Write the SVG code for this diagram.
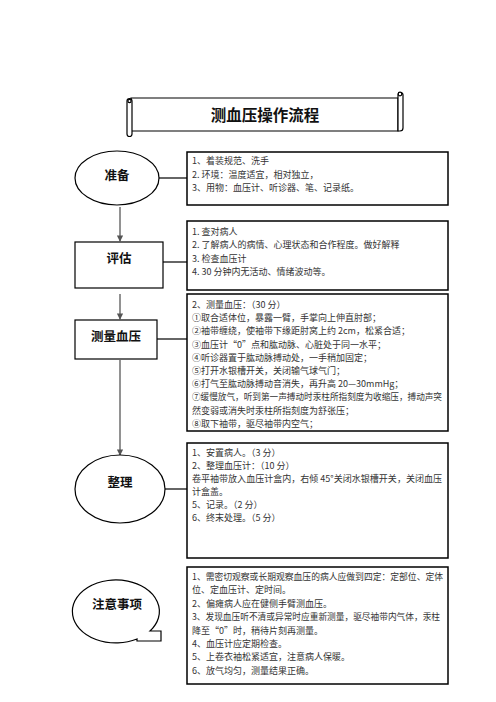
<svg xmlns="http://www.w3.org/2000/svg" width="496" height="702" viewBox="0 0 496 702">
<style>
.node{fill:#fff;stroke:#000;stroke-width:1.2}
.box{fill:#fff;stroke:#000;stroke-width:1.5}
.lbl{font-family:"Noto Sans CJK SC","Noto Sans",sans-serif;font-weight:bold;font-size:12.5px;fill:#111;text-anchor:middle}
.t{font-family:"Noto Sans CJK SC","Noto Sans",sans-serif;font-size:9px;fill:#333}
.ln{stroke:#000;stroke-width:1.2;fill:none}
.ar{stroke:#777;stroke-width:1.6;fill:none;marker-end:url(#ah)}
</style>
<defs>
<marker id="ah" viewBox="0 0 8 8" refX="7" refY="4" markerWidth="4" markerHeight="4" orient="auto" markerUnits="strokeWidth">
<path d="M0,0 L8,4 L0,8 Z" fill="#555"/>
</marker>
</defs>
<rect width="496" height="702" fill="#fff"/>

<g id="title">
<path class="node" d="M131,98 H398 V131 H131 Z"/>
<path class="node" d="M398,131 V95 a2.5,2.5 0 0 1 5,0 V128 a3,3 0 0 1 -3,3 Z"/>
<circle cx="400" cy="94" r="1.8" class="node"/>
<path class="node" d="M127,101 a2.5,2.5 0 0 1 5,0 V134 a2.5,2.5 0 0 1 -5,0 Z"/>
<circle cx="129.5" cy="101" r="1.6" class="node"/>
<text x="265" y="120.5" style="font-family:'Noto Sans CJK SC',sans-serif;font-weight:bold;font-size:15.5px;fill:#111;text-anchor:middle">测血压操作流程</text>
</g>

<g id="connectors">
<line class="ar" x1="120" y1="207" x2="120" y2="241"/>
<line class="ar" x1="120" y1="294" x2="120" y2="319"/>
<line class="ar" x1="120" y1="360" x2="120" y2="455"/>
<line class="ln" x1="159" y1="178" x2="187" y2="178"/>
<line class="ln" x1="163" y1="262" x2="187" y2="262"/>
<line class="ln" x1="157" y1="339" x2="187" y2="339"/>
<line class="ln" x1="165" y1="489" x2="187" y2="489"/>
</g>

<g id="n-zhunbei">
<ellipse class="node" cx="117" cy="178" rx="42" ry="27"/>
<text class="lbl" x="117" y="180">准备</text>
</g>
<g id="n-pinggu">
<rect class="node" x="75" y="242" width="88" height="46"/>
<text class="lbl" x="119" y="263">评估</text>
</g>
<g id="n-celiang">
<rect class="node" x="75" y="320" width="82" height="39"/>
<text class="lbl" x="116" y="341">测量血压</text>
</g>
<g id="n-zhengli">
<ellipse class="node" cx="120" cy="489" rx="45" ry="34"/>
<text class="lbl" x="120" y="487">整理</text>
</g>
<g id="n-zhuyi">
<path class="node" d="M137,639 A43.5,31.5 0 1 1 150,631 L161,631 L161,641 L137,641 Z"/>
<text class="lbl" x="117" y="609">注意事项</text>
</g>

<g id="b-1">
<rect class="box" x="187" y="152" width="261" height="53"/>
<text class="t" x="192" y="164">1、着装规范、洗手</text>
<text class="t" x="192" y="177.5">2. 环境：温度适宜，相对独立，</text>
<text class="t" x="192" y="191">3、用物：血压计、听诊器、笔、记录纸。</text>
</g>
<g id="b-2">
<rect class="box" x="187" y="221" width="261" height="69"/>
<text class="t" x="192" y="234.5">1. 查对病人</text>
<text class="t" x="192" y="248">2. 了解病人的病情、心理状态和合作程度。做好解释</text>
<text class="t" x="192" y="261.5">3. 检查血压计</text>
<text class="t" x="192" y="275">4. 30 分钟内无活动、情绪波动等。</text>
</g>
<g id="b-3">
<rect class="box" x="187" y="294" width="261" height="137"/>
<text class="t" x="192" y="308">2、测量血压：（30 分）</text>
<text class="t" x="192" y="321.2">①取合适体位，暴露一臂，手掌向上伸直肘部；</text>
<text class="t" x="192" y="334.4">②袖带缠绕，使袖带下缘距肘窝上约 2cm，松紧合适；</text>
<text class="t" x="192" y="347.6">③血压计“0”点和肱动脉、心脏处于同一水平；</text>
<text class="t" x="192" y="360.8">④听诊器置于肱动脉搏动处，一手稍加固定；</text>
<text class="t" x="192" y="374">⑤打开水银槽开关，关闭输气球气门；</text>
<text class="t" x="192" y="387.2">⑥打气至肱动脉搏动音消失，再升高 20—30mmHg；</text>
<text class="t" x="192" y="400.4" textLength="250" lengthAdjust="spacingAndGlyphs">⑦缓慢放气，听到第一声搏动时汞柱所指刻度为收缩压，搏动声突</text>
<text class="t" x="192" y="413.6">然变弱或消失时汞柱所指刻度为舒张压；</text>
<text class="t" x="192" y="426.8">⑧取下袖带，驱尽袖带内空气；</text>
</g>
<g id="b-4">
<rect class="box" x="187" y="443" width="261" height="115"/>
<text class="t" x="192" y="456">1、安置病人。（3 分）</text>
<text class="t" x="192" y="469">2、整理血压计：（10 分）</text>
<text class="t" x="192" y="482" textLength="250" lengthAdjust="spacingAndGlyphs">卷平袖带放入血压计盒内，右倾 45°关闭水银槽开关，关闭血压</text>
<text class="t" x="192" y="495">计盒盖。</text>
<text class="t" x="192" y="508">5、记录。（2 分）</text>
<text class="t" x="192" y="521">6、终末处理。（5 分）</text>
</g>
<g id="b-5">
<rect class="box" x="187" y="567" width="261" height="117"/>
<text class="t" x="192" y="580" textLength="251" lengthAdjust="spacingAndGlyphs">1、需密切观察或长期观察血压的病人应做到四定：定部位、定体</text>
<text class="t" x="192" y="593.4">位、定血压计、定时间。</text>
<text class="t" x="192" y="606.8">2、偏瘫病人应在健侧手臂测血压。</text>
<text class="t" x="192" y="620.2" textLength="248" lengthAdjust="spacingAndGlyphs">3、发现血压听不清或异常时应重新测量，驱尽袖带内气体，汞柱</text>
<text class="t" x="192" y="633.6">降至“0”时，稍待片刻再测量。</text>
<text class="t" x="192" y="647">4、血压计应定期检查。</text>
<text class="t" x="192" y="660.4">5、上卷衣袖松紧适宜，注意病人保暖。</text>
<text class="t" x="192" y="673.8">6、放气均匀，测量结果正确。</text>
</g>
</svg>
